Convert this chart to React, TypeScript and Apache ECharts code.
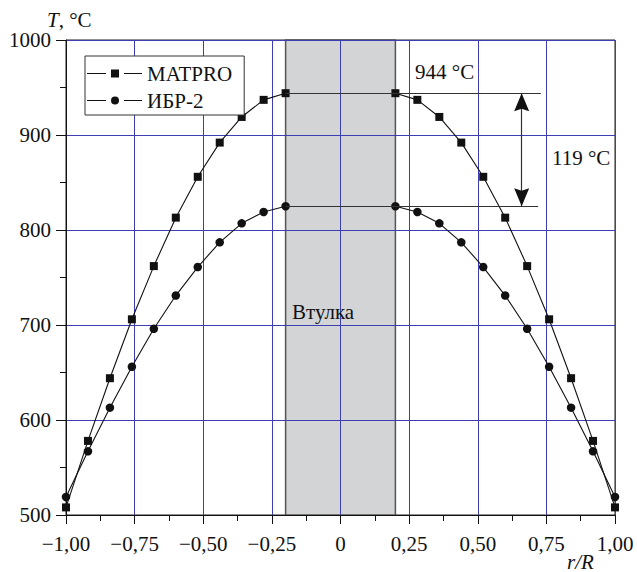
import React, { useEffect, useRef } from 'react';
import * as echarts from 'echarts';

// ---- data ----
const radiusLeft = [-1, -0.92, -0.84, -0.76, -0.68, -0.6, -0.52, -0.44, -0.36, -0.28, -0.2];
const radiusRight = [0.2, 0.28, 0.36, 0.44, 0.52, 0.6, 0.68, 0.76, 0.84, 0.92, 1];
const matproLeft = [508, 578, 644, 706, 762, 813, 856, 892, 919, 937, 944];
const matproRight = [944, 937, 919, 892, 856, 813, 762, 706, 644, 578, 508];
const ibrLeft = [519, 567, 613, 656, 696, 731, 761, 787, 807, 819, 825];
const ibrRight = [825, 819, 807, 787, 761, 731, 696, 656, 613, 567, 519];

const xTicks = [-1, -0.75, -0.5, -0.25, 0, 0.25, 0.5, 0.75, 1];
const xTickLabels = ['−1,00', '−0,75', '−0,50', '−0,25', '0', '0,25', '0,50', '0,75', '1,00'];
const yTicks = [500, 600, 700, 800, 900, 1000];
const yTickLabels = ['500', '600', '700', '800', '900', '1000'];

const seriesNames = ['MATPRO', 'ИБР-2'];
const sleeveRange = [-0.2, 0.2];
const sleeveLabel = 'Втулка';
const peakLine = { from: -0.2, to: 0.73, value: 944 };
const lowLine = { from: -0.2, to: 0.72, value: 825 };
const arrowX = 0.66;
const peakLabel = '944 °C';
const deltaLabel = '119 °C';

const FONT = "'Liberation Serif', 'Times New Roman', serif";
const GRID_BLUE = '#3d3db4';
const ARROW_HEAD = 'path://M0,0L7,18L0,15.5L-7,18Z';

function pairs(xs: number[], ys: number[]) {
  return xs.map((x, i) => [x, ys[i]]);
}

export default function App() {
  const ref = useRef<HTMLDivElement>(null);

  useEffect(() => {
    document.body.style.margin = '0';
    if (!ref.current) return;
    const chart = echarts.init(ref.current, undefined, { renderer: 'svg' });

    const matproData = [...pairs(radiusLeft, matproLeft), [0, '-'], ...pairs(radiusRight, matproRight)];
    const ibrData = [...pairs(radiusLeft, ibrLeft), [0, '-'], ...pairs(radiusRight, ibrRight)];

    const lineSeries = (name: string, data: any[], symbol: string, size: number) => ({
      name,
      type: 'line',
      data,
      z: 3,
      symbol,
      symbolSize: size,
      showSymbol: true,
      connectNulls: false,
      lineStyle: { color: '#111', width: 1.1 },
      itemStyle: { color: '#111', borderWidth: 0 },
      emphasis: { disabled: true },
    });

    const option: any = {
      animation: false,
      grid: {
        left: 66,
        right: 22,
        top: 40,
        bottom: 57,
        show: true,
        borderColor: '#222',
        borderWidth: 1,
        backgroundColor: 'transparent',
      },
      legend: {
        left: 85,
        top: 56,
        orient: 'vertical',
        itemWidth: 55,
        itemHeight: 8,
        itemGap: 6,
        padding: [7, 12, 4, 2],
        borderColor: '#333',
        borderWidth: 1,
        backgroundColor: '#fff',
        selectedMode: false,
        itemStyle: { borderWidth: 0 },
        textStyle: { fontFamily: FONT, fontSize: 21, color: '#111', lineHeight: 21 },
        data: [
          { name: seriesNames[0], icon: 'path://M0,3.5H19V4.5H0Z M24,0H32V8H24Z M37,3.5H55V4.5H37Z' },
          { name: seriesNames[1], icon: 'path://M0,3.5H19V4.5H0Z M32,4A4,4 0 1 1 24,4A4,4 0 1 1 32,4Z M37,3.5H55V4.5H37Z' },
        ],
      },
      xAxis: {
        type: 'value',
        min: -1,
        max: 1,
        interval: 0.25,
        z: 2,
        axisLine: { show: true, onZero: false, lineStyle: { color: '#111', width: 1 } },
        axisTick: { show: true, length: 9, lineStyle: { color: '#111' } },
        minorTick: { show: true, splitNumber: 2, length: 6, lineStyle: { color: '#111' } },
        splitLine: { show: true, lineStyle: { color: GRID_BLUE, width: 1 } },
        axisLabel: {
          margin: 18,
          fontFamily: FONT,
          fontSize: 21,
          color: '#111',
          formatter: (v: number) => {
            const i = xTicks.findIndex((t) => Math.abs(t - v) < 1e-6);
            return i >= 0 ? xTickLabels[i] : '';
          },
        },
      },
      yAxis: {
        type: 'value',
        min: 500,
        max: 1000,
        interval: 100,
        z: 2,
        axisLine: { show: true, onZero: false, lineStyle: { color: '#111', width: 1 } },
        axisTick: { show: true, length: 10, lineStyle: { color: '#111' } },
        minorTick: { show: true, splitNumber: 2, length: 6, lineStyle: { color: '#111' } },
        splitLine: { show: true, lineStyle: { color: GRID_BLUE, width: 1 } },
        axisLabel: {
          margin: 15,
          fontFamily: FONT,
          fontSize: 21,
          color: '#111',
          formatter: (v: number) => {
            const i = yTicks.indexOf(v);
            return i >= 0 ? yTickLabels[i] : '';
          },
        },
      },
      series: [
        {
          name: 'sleeve',
          type: 'line',
          data: [],
          z: 1,
          silent: true,
          markArea: {
            silent: true,
            itemStyle: { color: '#d3d4d6', borderColor: '#555', borderWidth: 1.5 },
            label: { show: false },
            data: [[{ xAxis: sleeveRange[0], yAxis: 500 }, { xAxis: sleeveRange[1], yAxis: 1000 }]],
          },
        },
        lineSeries(seriesNames[0], matproData, 'rect', 8),
        lineSeries(seriesNames[1], ibrData, 'circle', 8.5),
        {
          name: 'annot',
          type: 'line',
          data: [],
          z: 4,
          silent: true,
          markLine: {
            silent: true,
            symbol: ['none', 'none'],
            label: { show: false },
            lineStyle: { color: '#333', width: 1.2, type: 'solid' },
            data: [
              [{ coord: [peakLine.from, peakLine.value] }, { coord: [peakLine.to, peakLine.value] }],
              [{ coord: [lowLine.from, lowLine.value] }, { coord: [lowLine.to, lowLine.value] }],
              [{ coord: [arrowX, peakLine.value] }, { coord: [arrowX, lowLine.value] }],
            ],
          },
          markPoint: {
            silent: true,
            symbol: ARROW_HEAD,
            symbolSize: [15, 18],
            label: { show: false },
            itemStyle: { color: '#111' },
            data: [
              { coord: [arrowX, peakLine.value], symbolRotate: 0, symbolOffset: [0, 9] },
              { coord: [arrowX, lowLine.value], symbolRotate: 180, symbolOffset: [0, -9] },
            ],
          },
        },
      ],
      graphic: [
        {
          type: 'text',
          left: 47,
          top: 9,
          style: {
            text: '{i|T}, °C',
            fontFamily: FONT,
            fontSize: 21,
            fill: '#111',
            rich: { i: { fontStyle: 'italic', fontFamily: FONT, fontSize: 21, fill: '#111' } },
          },
        },
        {
          type: 'text',
          left: 567,
          top: 551,
          style: { text: 'r/R', fontFamily: FONT, fontSize: 21, fontStyle: 'italic', fill: '#111' },
        },
        {
          type: 'text',
          left: 415,
          top: 61,
          z: 10,
          style: { text: peakLabel, fontFamily: FONT, fontSize: 21, fill: '#111' },
        },
        {
          type: 'text',
          left: 552,
          top: 147,
          z: 10,
          style: { text: deltaLabel, fontFamily: FONT, fontSize: 21, fill: '#111' },
        },
        {
          type: 'text',
          left: 292,
          top: 301,
          z: 10,
          style: { text: sleeveLabel, fontFamily: FONT, fontSize: 21, fill: '#111' },
        },
      ],
    };

    chart.setOption(option);
    return () => chart.dispose();
  }, []);

  return <div ref={ref} style={{ width: 637, height: 572 }} />;
}
